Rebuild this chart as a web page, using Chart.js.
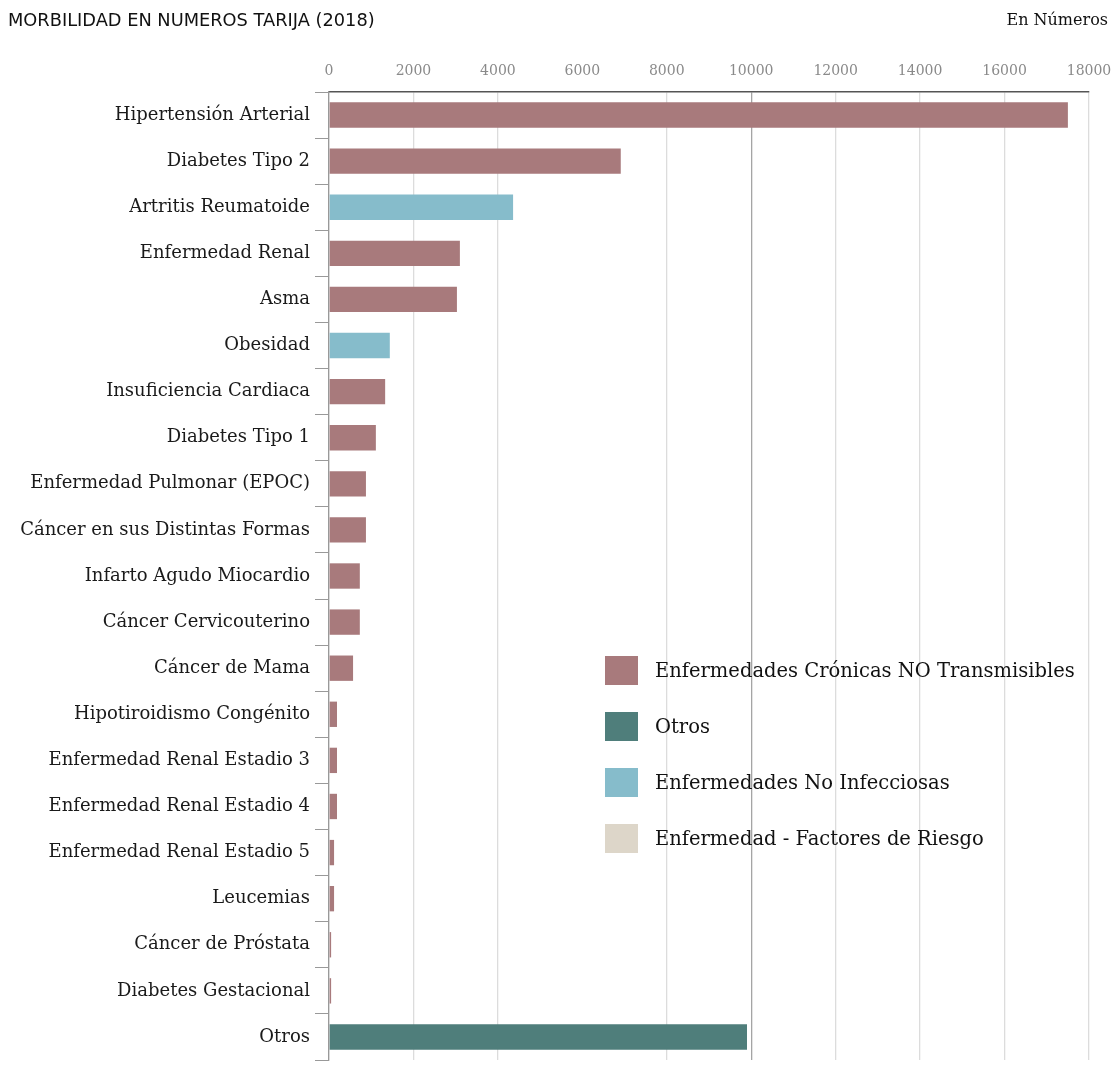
<!DOCTYPE html>
<html>
<head>
<meta charset="utf-8">
<script src="https://cdn.jsdelivr.net/npm/chart.js@4.4.0/dist/chart.umd.min.js"></script>
<style>
  body { margin: 0; background: #fff; }
  #wrap { position: relative; width: 1114px; height: 1087px; overflow: hidden; }
  #title { position: absolute; left: 8px; top: 9px; font-family: "DejaVu Sans", sans-serif; font-size: 17.8px; color: #111; }
  #unit { position: absolute; right: 6px; top: 10px; font-family: "DejaVu Serif", serif; font-size: 16px; color: #111; }
  #legend { position: absolute; left: 605px; top: 656px; font-family: "DejaVu Serif", serif; font-size: 19.5px; color: #111; }
  .item { height: 56px; display: flex; align-items: flex-start; }
  .box { width: 33px; height: 29px; margin-right: 17px; }
  .lbl { line-height: 29px; }
</style>
</head>
<body>
<div id="wrap">
  <canvas id="myChart" width="1114" height="1087"></canvas>
  <div id="title">MORBILIDAD EN NUMEROS TARIJA (2018)</div>
  <div id="unit">En Números</div>
  <div id="legend"></div>
</div>
<script>
const categories = [
  'Hipertensión Arterial', 'Diabetes Tipo 2', 'Artritis Reumatoide', 'Enfermedad Renal',
  'Asma', 'Obesidad', 'Insuficiencia Cardiaca', 'Diabetes Tipo 1',
  'Enfermedad Pulmonar (EPOC)', 'Cáncer en sus Distintas Formas', 'Infarto Agudo Miocardio',
  'Cáncer Cervicouterino', 'Cáncer de Mama', 'Hipotiroidismo Congénito',
  'Enfermedad Renal Estadio 3', 'Enfermedad Renal Estadio 4', 'Enfermedad Renal Estadio 5',
  'Leucemias', 'Cáncer de Próstata', 'Diabetes Gestacional', 'Otros'
]
const values = [
  17500, 6910, 4360, 3100,
  3030, 1440, 1330, 1110,
  875, 875, 730,
  730, 570, 190,
  190, 190, 120,
  120, 50, 50, 9900
]
// group index of each category
const groupOf = [
  0, 0, 2, 0,
  0, 2, 0, 0,
  0, 0, 0,
  0, 0, 0,
  0, 0, 0,
  0, 0, 0, 1
]
const groupNames = [
  'Enfermedades Crónicas NO Transmisibles',
  'Otros',
  'Enfermedades No Infecciosas',
  'Enfermedad - Factores de Riesgo'
]
const groupColors = ['#a87a7c', '#4f7e7b', '#86bccb', '#ddd6c9']
const xTicks = [0, 2000, 4000, 6000, 8000, 10000, 12000, 14000, 16000, 18000]

const datasets = groupNames.map((name, g) => ({
  label: name,
  data: values.map((v, i) => groupOf[i] === g ? v : null),
  backgroundColor: groupColors[g],
  grouped: false,
  categoryPercentage: 1,
  barPercentage: 0.55
}))

// html legend
const legend = document.getElementById('legend')
groupNames.forEach((name, g) => {
  const it = document.createElement('div')
  it.className = 'item'
  it.innerHTML = '<div class="box" style="background:' + groupColors[g] + '"></div><div class="lbl">' + name + '</div>'
  legend.appendChild(it)
})

const config = {
  type: 'bar',
  data: { labels: categories, datasets: datasets },
  options: {
    indexAxis: 'y',
    responsive: false,
    animation: false,
    layout: { padding: { top: 52, right: 25, bottom: 27, left: 0 } },
    plugins: { legend: { display: false }, tooltip: { enabled: false } },
    scales: {
      x: {
        position: 'top',
        min: 0,
        max: 18000,
        afterBuildTicks: s => { s.ticks = xTicks.map(v => ({ value: v })) },
        afterFit: s => { s.height = 40; s.paddingLeft = 0; s.paddingRight = 0 },
        ticks: {
          color: '#8a8a8a',
          font: { family: '"DejaVu Serif", serif', size: 14 },
          padding: 12,
          maxRotation: 0,
          autoSkip: false,
          callback: v => String(v)
        },
        grid: {
          drawTicks: false,
          color: c => c.tick && c.tick.value === 10000 ? '#a5a5a5'
            : (c.tick && c.tick.value === 6000 ? 'rgba(0,0,0,0)' : '#dcdcdc'),
          lineWidth: 1.3
        },
        border: { display: true, color: '#555', width: 1.5 }
      },
      y: {
        afterFit: s => { s.width = 329 },
        ticks: {
          color: '#1a1a1a',
          font: { family: '"DejaVu Serif", serif', size: 18 },
          padding: 5,
          autoSkip: false
        },
        grid: {
          drawOnChartArea: false,
          drawTicks: true,
          tickLength: 14,
          color: '#999',
          offset: true
        },
        border: { display: true, color: '#999', width: 1.3 }
      }
    }
  }
}

const myChart = new Chart(document.getElementById('myChart'), config)
</script>
</body>
</html>
